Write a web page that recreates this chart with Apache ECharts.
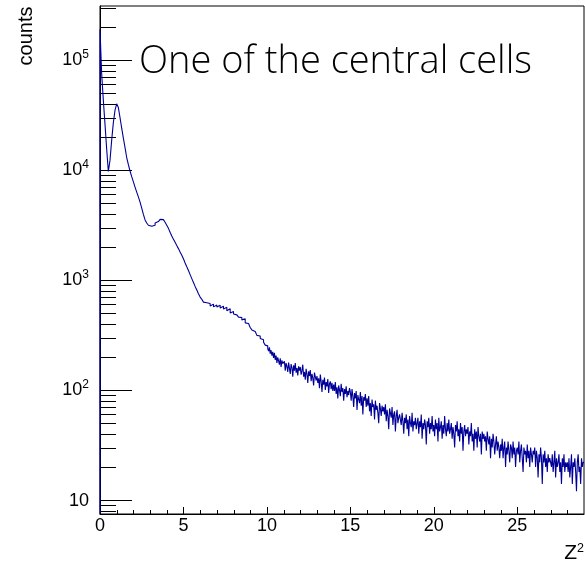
<!DOCTYPE html>
<html><head><meta charset="utf-8">
<script src="https://cdn.jsdelivr.net/npm/echarts@6/dist/echarts.min.js"></script>
<style>html,body{margin:0;padding:0;background:#fff}#c{width:585px;height:563px}</style>
</head><body><div id="c"></div>
<script>
const titleText = 'One of the central cells';
const xNameMain = 'Z';
const xNameSup = '2';
const yName = 'counts';
const xMin = 0, xMax = 29;
const yMin = 7.46, yMax = 3.1e5;
const xMajorTicks = [0, 5, 10, 15, 20, 25];
const yDecades = [1, 2, 3, 4, 5];
const yMinorMultipliers = [2, 3, 4, 5, 6, 7, 8, 9];

// counts, Z^2 from 0 to 10, bins of 0.1
const binStartLow = 0;
const binWidthLow = 0.1;
const countsLow = [
  190000, 75000, 43000, 26000, 15500, 9700, 12300, 18700, 27000, 35000,
  40000, 37000, 30000, 24000, 19500, 16000, 13000, 11200, 9800, 8700,
  7800, 7000, 6300, 5700, 5100, 4500, 3950, 3520, 3300, 3150,
  3080, 3050, 3150, 3300, 3400, 3480, 3560, 3540, 3500, 3350,
  3150, 2950, 2720, 2510, 2350, 2200, 2060, 1930, 1800, 1680,
  1560, 1430, 1320, 1220, 1120, 1030, 950, 875, 810, 750,
  700, 668, 630, 622, 600, 612, 580, 604, 570, 594,
  568, 590, 556, 578, 544, 566, 526, 548, 502, 518,
  492, 482, 476, 460, 456, 434, 444, 408, 402, 388,
  370, 352, 340, 332, 314, 310, 294, 286, 272, 256
];

// counts, Z^2 from 10 to 29, bins of 0.05
const binStartHigh = 10;
const binWidthHigh = 0.05;
const countsHigh = [
  252, 238, 226, 244, 214, 230, 205, 222, 196, 218, 188, 206, 176, 198, 184, 170, 194, 162, 186, 174,
  168, 182, 150, 176, 164, 146, 178, 158, 140, 172, 160, 132, 168, 150, 176, 144, 158, 136, 164, 150,
  162, 138, 150, 170, 132, 146, 124, 156, 140, 116, 148, 134, 152, 120, 140, 128, 110, 144, 132, 122,
  134, 116, 128, 104, 138, 120, 96, 124, 112, 130, 100, 118, 108, 126, 94, 114, 120, 102, 116, 98,
  112, 98, 118, 92, 106, 84, 110, 100, 88, 114, 96, 104, 80, 102, 92, 108, 86, 98, 90, 104,
  96, 80, 102, 88, 70, 94, 84, 98, 66, 90, 82, 76, 96, 72, 88, 60, 86, 80, 92, 70,
  84, 72, 88, 64, 76, 58, 82, 70, 74, 54, 80, 66, 72, 62, 50, 76, 68, 58, 72, 64,
  70, 60, 74, 52, 66, 58, 44, 68, 62, 56, 70, 48, 60, 64, 42, 58, 66, 50, 56, 60,
  58, 48, 62, 52, 40, 56, 50, 60, 44, 54, 38, 58, 50, 46, 62, 42, 52, 48, 56, 44,
  50, 56, 40, 52, 46, 60, 36, 50, 44, 54, 48, 32, 52, 46, 56, 40, 50, 44, 58, 42,
  48, 38, 54, 44, 50, 34, 56, 42, 46, 52, 36, 48, 40, 58, 44, 38, 50, 42, 54, 40,
  44, 50, 36, 46, 40, 30, 48, 42, 52, 38, 44, 34, 50, 40, 46, 28, 42, 48, 38, 44,
  40, 46, 32, 42, 38, 50, 34, 40, 28, 44, 36, 42, 30, 46, 38, 34, 40, 26, 42, 36,
  40, 34, 38, 28, 42, 36, 32, 38, 24, 36, 30, 40, 34, 26, 32, 38, 28, 34, 30, 24,
  32, 28, 36, 24, 30, 34, 20, 30, 26, 34, 28, 22, 32, 30, 24, 34, 26, 30, 20, 28,
  30, 26, 34, 22, 28, 32, 24, 18, 30, 26, 28, 22, 32, 24, 28, 20, 30, 26, 22, 28,
  26, 30, 20, 28, 24, 16, 26, 22, 30, 24, 14, 26, 22, 28, 20, 24, 18, 26, 22, 24,
  24, 20, 26, 18, 22, 28, 16, 24, 20, 22, 26, 18, 22, 14, 24, 20, 26, 18, 22, 20,
  22, 18, 24, 16, 20, 26, 14, 22, 20, 24, 18, 12, 22, 26, 18, 20, 14, 24, 20, 22
];

// histogram outline points (step at bin edges)
const histPoints = [[binStartLow, yMin]];
countsLow.forEach((c, i) => histPoints.push([+(binStartLow + i * binWidthLow).toFixed(4), c]));
countsHigh.forEach((c, i) => histPoints.push([+(binStartHigh + i * binWidthHigh).toFixed(4), c]));
histPoints.push([+(binStartHigh + countsHigh.length * binWidthHigh).toFixed(4), countsHigh[countsHigh.length - 1]]);

// tick values
const yTickData = [];
yDecades.forEach(n => yTickData.push([xMin, Math.pow(10, n), 1]));
for (let n = 0; n <= 5; n++) {
  yMinorMultipliers.forEach(k => {
    const v = k * Math.pow(10, n);
    if (v > yMin && v < yMax) yTickData.push([xMin, v, 0]);
  });
}
const xTickData = [];
for (let v = 1; v < xMax; v++) {
  xTickData.push([v, yMin, xMajorTicks.indexOf(v) >= 0 ? 1 : 0]);
}

const font = 'Liberation Sans';
const chart = echarts.init(document.getElementById('c'), null, {renderer: 'canvas'});

function snap(v) { return Math.round(v) + 0.5; }

chart.setOption({
  animation: false,
  backgroundColor: '#fff',
  grid: {left: 100, right: 1, top: 6, bottom: 49, show: true, borderColor: '#000', borderWidth: 1, backgroundColor: 'transparent'},
  xAxis: {
    type: 'value', min: xMin, max: xMax, interval: 5,
    axisLine: {show: true, lineStyle: {color: '#000', width: 1}},
    axisTick: {show: false},
    splitLine: {show: false},
    axisLabel: {
      color: '#000', fontFamily: font, fontSize: 18, margin: 3,
      showMaxLabel: false,
      formatter: v => (xMajorTicks.indexOf(v) >= 0 ? String(v) : '')
    }
  },
  yAxis: {
    type: 'log', logBase: 10, min: yMin, max: yMax,
    axisLine: {show: true, lineStyle: {color: '#000', width: 1}},
    axisTick: {show: false},
    splitLine: {show: false},
    axisLabel: {
      color: '#000', fontFamily: font, margin: 11,
      showMinLabel: false, showMaxLabel: false,
      formatter: v => {
        const l = Math.log10(v);
        const e = Math.round(l);
        if (Math.abs(l - e) > 1e-6) return '';
        if (e === 1) return '{p|10}';
        return '{b|10}{s|' + e + '}';
      },
      rich: {
        b: {fontFamily: font, fontSize: 18, lineHeight: 18, color: '#000', padding: [7, 0, 0, 0], verticalAlign: 'bottom'},
        s: {fontFamily: font, fontSize: 12, lineHeight: 12, color: '#000', padding: [0, 0, 8.5, 0], verticalAlign: 'bottom'},
        p: {fontFamily: font, fontSize: 18, lineHeight: 18, color: '#000', padding: [3, 0, 0, 0]}
      }
    }
  },
  graphic: [
    {
      type: 'text', left: 139, top: 43, z: 100,
      style: {text: titleText, font: '300 38px "Open Sans"', fill: '#000'}
    },
    {
      type: 'text', x: 26, y: 36, rotation: Math.PI / 2, z: 100,
      style: {text: yName, font: '20px "Liberation Sans"', fill: '#000', align: 'center', verticalAlign: 'middle'}
    },
    {
      type: 'text', x: 584, y: 553, z: 100,
      style: {
        text: '{z|' + xNameMain + '}{s|' + xNameSup + '}', align: 'right', verticalAlign: 'middle',
        rich: {
          z: {fontFamily: font, fontSize: 21, lineHeight: 21, fill: '#000', verticalAlign: 'bottom'},
          s: {fontFamily: font, fontSize: 12.5, lineHeight: 12.5, fill: '#000', padding: [0, 0, 8, 0], verticalAlign: 'bottom'}
        }
      }
    }
  ],
  series: [
    {
      type: 'custom', name: 'yticks', z: 1, silent: true,
      data: yTickData,
      renderItem: (params, api) => {
        const p = api.coord([api.value(0), api.value(1)]);
        const len = api.value(2) ? 32 : 16;
        const y = snap(p[1]);
        return {type: 'line', shape: {x1: p[0], y1: y, x2: p[0] + len, y2: y}, style: {stroke: '#000', lineWidth: 1}};
      }
    },
    {
      type: 'custom', name: 'xticks', z: 1, silent: true,
      data: xTickData,
      renderItem: (params, api) => {
        const p = api.coord([api.value(0), api.value(1)]);
        const len = api.value(2) ? 7 : 4;
        const x = snap(p[0]);
        return {type: 'line', shape: {x1: x, y1: p[1], x2: x, y2: p[1] - len}, style: {stroke: '#000', lineWidth: 1}};
      }
    },
    {
      type: 'line', name: 'counts', z: 5, silent: true,
      data: histPoints,
      step: 'end',
      showSymbol: false, symbol: 'none',
      clip: true,
      lineStyle: {color: '#000099', width: 1.1}
    }
  ]
});
</script>
</body></html>
